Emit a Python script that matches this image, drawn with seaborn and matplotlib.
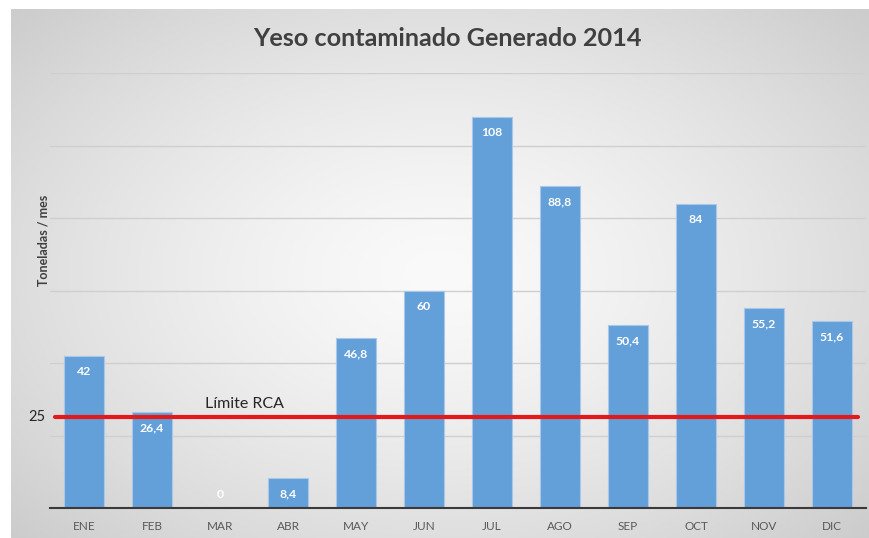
import numpy as np
import pandas as pd
import matplotlib
matplotlib.use("Agg")
import matplotlib.pyplot as plt
import matplotlib.transforms as mtransforms
import seaborn as sns

# ---- data ----
months = ["ENE", "FEB", "MAR", "ABR", "MAY", "JUN", "JUL", "AGO", "SEP", "OCT", "NOV", "DIC"]
toneladas = [42, 26.4, 0, 8.4, 46.8, 60, 108, 88.8, 50.4, 84, 55.2, 51.6]
limite_rca = 25
title = "Yeso contaminado Generado 2014"
ylabel = "Toneladas / mes"
limit_label = "Límite RCA"

df = pd.DataFrame({"mes": months, "ton": toneladas})

sns.set_theme(style="white")
plt.rcParams["font.family"] = ["Lato", "DejaVu Sans"]

W, H = 869, 538
fig = plt.figure(figsize=(W / 100, H / 100), dpi=100)
fig.patch.set_facecolor("white")

# background gradient panel
bg = fig.add_axes([11 / W, 0, (W - 11) / W, (H - 9) / H], zorder=-10)
yy, xx = np.mgrid[-1:1:300j, -1:1:500j]
r = np.sqrt((xx * 0.95) ** 2 + (yy * 0.9) ** 2) / np.sqrt(0.95**2 + 0.9**2)
c0, c1 = 0.98, 0.80
g = c0 + (c1 - c0) * np.clip(r, 0, 1) ** 1.4
bg.imshow(np.dstack([g, g, g]), aspect="auto", extent=[0, 1, 0, 1])
bg.set_axis_off()

ax = fig.add_axes([50 / W, (H - 508) / H, 816 / W, (508 - 73) / H])
ax.set_facecolor("none")

sns.barplot(data=df, x="mes", y="ton", ax=ax, color="#639fd8", saturation=1,
            width=0.59, edgecolor="#a8c7ea", linewidth=0.8, zorder=3)

ax.set_ylim(0, 120)
ax.set_xlim(-0.5, len(months) - 0.5)
ax.set_yticks(np.arange(0, 121, 20))
ax.set_yticklabels([])
ax.yaxis.grid(True, color="#cfcfcf", linewidth=1.0, zorder=0)
ax.set_axisbelow(True)
for s in ["top", "right", "left"]:
    ax.spines[s].set_visible(False)
ax.spines["bottom"].set_color("#3a3a3a")
ax.spines["bottom"].set_linewidth(1.5)
ax.spines["bottom"].set_zorder(5)
ax.tick_params(axis="x", length=0, pad=9, labelsize=8.5, labelcolor="#595959")
ax.tick_params(axis="y", length=0)
ax.set_xlabel("")
ax.set_ylabel("")

# value labels (inside end; zero values sit just above the baseline)
for p, v in zip(ax.patches, toneladas):
    lbl = f"{v:g}".replace(".", ",")
    off = -11.5 if v > 0 else 10
    ax.annotate(lbl, (p.get_x() + p.get_width() / 2, p.get_height()),
                xytext=(0, off), textcoords="offset points",
                ha="center", va="center", color="white",
                fontsize=8.8, fontweight="bold", zorder=6)

# limit line
ax.axhline(limite_rca, xmin=5 / 816, xmax=808 / 816, color="#e31a1c",
           linewidth=3, zorder=7)
blend = mtransforms.blended_transform_factory(ax.transAxes, ax.transData)
ax.text(-0.006, limite_rca, str(limite_rca), transform=blend, ha="right",
        va="center", fontsize=10.5, color="#262626")
ax.annotate(limit_label, (155 / 816, limite_rca), xycoords=blend,
            xytext=(0, 9.4), textcoords="offset points", ha="left",
            va="center", fontsize=11.5, color="#262626")

fig.text(447 / W, 1 - 39 / H, title, ha="center", va="center",
         fontsize=18.2, fontweight="bold", color="#404040")
fig.text(43 / W, 1 - 240 / H, ylabel, ha="center", va="center",
         rotation=90, fontsize=9, fontweight="bold", color="#404040")

fig.savefig("out.png", dpi=100)
